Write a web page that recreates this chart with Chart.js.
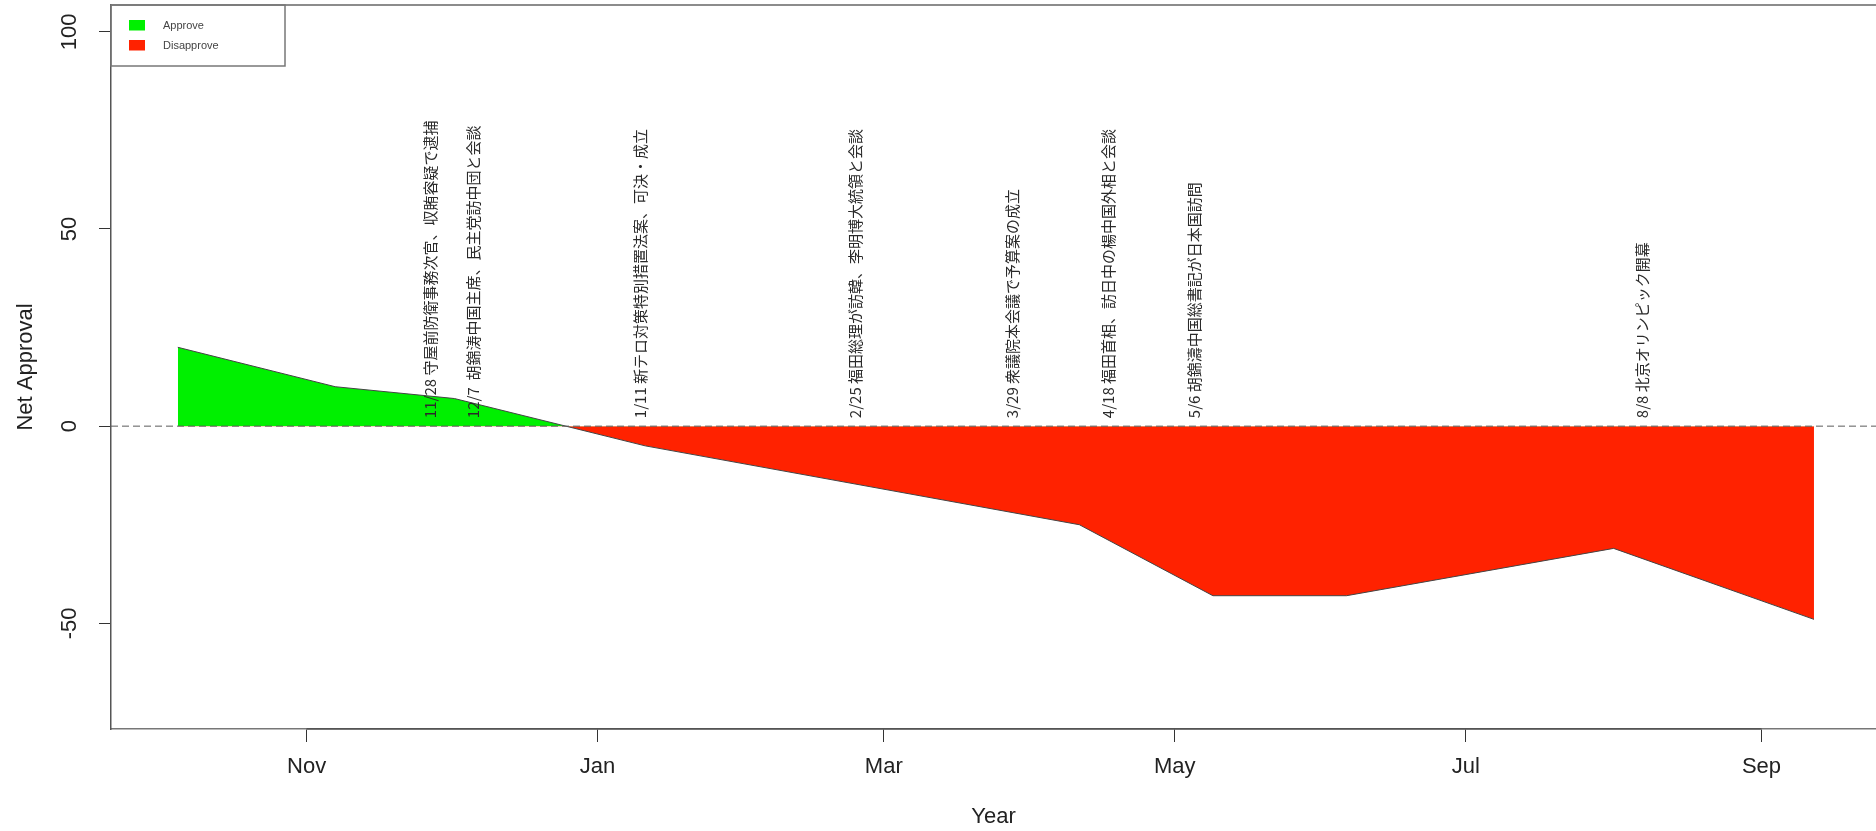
<!DOCTYPE html>
<html><head><meta charset="utf-8">
<script src="https://cdn.jsdelivr.net/npm/chart.js@4.4.1/dist/chart.umd.min.js"></script>
<style>html,body{margin:0;padding:0;background:#fff;overflow:hidden}</style>
</head><body>
<canvas id="c" width="1876" height="831"></canvas>
<script>
// ---- data ----
const pollDates = ["2007-10-05","2007-11-07","2007-12-02","2008-01-11","2008-04-11","2008-05-09","2008-06-06","2008-08-01","2008-09-12"];
const netApproval = [20, 10, 7, -5, -25, -43, -43, -31, -49];
const monthTickDates = ["2007-11-01","2008-01-01","2008-03-01","2008-05-01","2008-07-01","2008-09-01"];
const monthTickLabels = ["Nov","Jan","Mar","May","Jul","Sep"];
const yTickValues = [-50, 0, 50, 100];
const eventDates = ["2007-11-28","2007-12-07","2008-01-11","2008-02-25","2008-03-29","2008-04-18","2008-05-06","2008-08-08"];
const eventLabels = [
  "11/28 守屋前防衛事務次官、収賄容疑で逮捕",
  "12/7  胡錦涛中国主席、民主党訪中団と会談",
  "1/11 新テロ対策特別措置法案、可決・成立",
  "2/25 福田総理が訪韓、李明博大統領と会談",
  "3/29 衆議院本会議で予算案の成立",
  "4/18 福田首相、訪日中の楊中国外相と会談",
  "5/6 胡錦濤中国総書記が日本国訪問",
  "8/8 北京オリンピック開幕"
];
const legendLabels = ["Approve", "Disapprove"];
const xRange = ["2007-09-21", "2008-09-25"];
const yRange = [-76.8, 106.8];

// ---- helpers ----
const ORIGIN = Date.UTC(2007, 10, 1);
function day(s) { const p = s.split("-").map(Number); return (Date.UTC(p[0], p[1]-1, p[2]) - ORIGIN) / 864e5; }

const GREEN = "#00F000", RED = "#FF2200";
const AXFONT = {family: "'Liberation Sans', Arial, sans-serif", size: 22};
const TXT = "#222";

const decor = {
  id: "decor",
  afterDatasetsDraw(chart) {
    const {ctx, scales: {x, y}} = chart;
    ctx.save();
    ctx.fillStyle = "#2a2a2a";
    ctx.font = "15px 'Noto Sans CJK JP', sans-serif";
    ctx.textAlign = "left";
    ctx.textBaseline = "alphabetic";
    const y0 = y.getPixelForValue(0);
    eventDates.forEach((d, i) => {
      const px = x.getPixelForValue(day(d));
      ctx.save();
      ctx.translate(px + 1, y0 - 8);
      ctx.rotate(-Math.PI / 2);
      ctx.fillText(eventLabels[i], 0, 0);
      ctx.restore();
    });
    ctx.restore();
  },
  afterDraw(chart) {
    const {ctx, chartArea: a, scales: {x}} = chart;
    ctx.save();
    ctx.strokeStyle = "#666"; ctx.lineWidth = 1.5;
    ctx.beginPath(); ctx.moveTo(a.left, a.top); ctx.lineTo(a.right, a.top); ctx.stroke();
    const t0 = x.getPixelForValue(day(monthTickDates[0]));
    const t1 = x.getPixelForValue(day(monthTickDates[monthTickDates.length - 1]));
    ctx.strokeStyle = "#333"; ctx.lineWidth = 1.2;
    ctx.beginPath(); ctx.moveTo(t0, a.bottom); ctx.lineTo(t1, a.bottom); ctx.stroke();
    const lx = a.left, ly = a.top, lw = 174, lh = 61;
    ctx.strokeStyle = "#777"; ctx.lineWidth = 1.5;
    ctx.strokeRect(lx, ly, lw, lh);
    const cols = [GREEN, RED];
    ctx.font = "11px 'Liberation Sans', Arial, sans-serif";
    ctx.textBaseline = "middle"; ctx.textAlign = "left";
    legendLabels.forEach((lab, i) => {
      const yy = ly + 15 + i * 20;
      ctx.fillStyle = cols[i];
      ctx.fillRect(lx + 18, yy, 16, 10.5);
      ctx.fillStyle = "#444";
      ctx.fillText(lab, lx + 52, yy + 5.5);
    });
    ctx.restore();
  }
};

new Chart(document.getElementById("c"), {
  type: "line",
  data: {
    datasets: [
      {
        label: "zero",
        data: [{x: day(xRange[0]), y: 0}, {x: day(xRange[1]), y: 0}],
        borderColor: "#5a5a5a", borderWidth: 1, borderDash: [7, 4],
        pointRadius: 0, fill: false
      },
      {
        label: "Net Approval",
        data: pollDates.map((d, i) => ({x: day(d), y: netApproval[i]})),
        borderColor: "#444", borderWidth: 1, pointRadius: 0, tension: 0,
        fill: {target: {value: 0}, above: GREEN, below: RED}
      }
    ]
  },
  options: {
    responsive: false,
    animation: false,
    layout: {padding: {top: 5, left: 0, right: 0, bottom: 0}},
    plugins: {legend: {display: false}, tooltip: {enabled: false}},
    scales: {
      x: {
        type: "linear",
        min: day(xRange[0]), max: day(xRange[1]),
        afterBuildTicks: s => { s.ticks = monthTickDates.map(d => ({value: day(d)})); },
        afterFit: s => { s.height = 102; s.paddingLeft = 0; s.paddingRight = 0; },
        grid: {drawOnChartArea: false, drawTicks: true, tickLength: 13, color: "#333", lineWidth: 1},
        border: {display: true, color: "#777", width: 1.5},
        ticks: {autoSkip: false, maxRotation: 0, minRotation: 0, padding: 12, font: AXFONT, color: TXT,
                callback: (v, i) => monthTickLabels[i]},
        title: {display: true, text: "Year", font: AXFONT, color: TXT, padding: {top: 0, bottom: 1}}
      },
      y: {
        type: "linear",
        min: yRange[0], max: yRange[1],
        afterBuildTicks: s => { s.ticks = yTickValues.map(v => ({value: v})); },
        afterFit: s => { s.width = 111; s.paddingTop = 0; s.paddingBottom = 0; },
        grid: {drawOnChartArea: false, drawTicks: true, tickLength: 12, color: "#333", lineWidth: 1},
        border: {display: true, color: "#555", width: 1.5},
        ticks: {minRotation: 90, maxRotation: 90, crossAlign: "center", padding: 11, font: AXFONT, color: TXT,
                callback: v => String(v)},
        title: {display: true, text: "Net Approval", font: AXFONT, color: TXT, padding: {top: 13, bottom: 0}}
      }
    }
  },
  plugins: [decor]
});
</script>
</body></html>
